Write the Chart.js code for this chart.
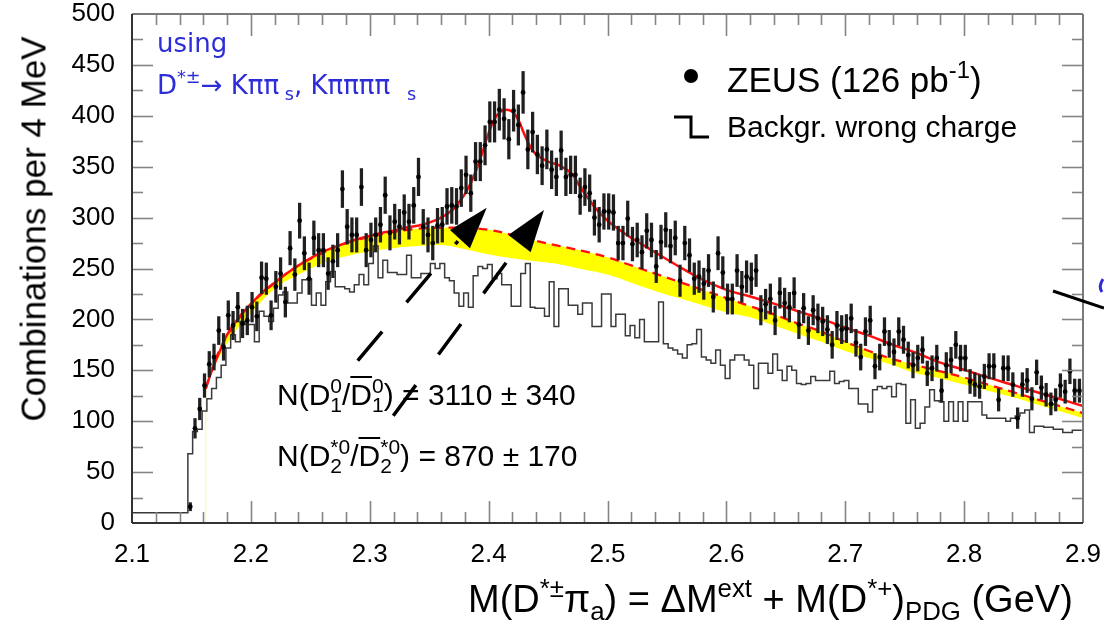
<!DOCTYPE html>
<html><head><meta charset="utf-8">
<script src="https://cdn.jsdelivr.net/npm/chart.js@4.4.0/dist/chart.umd.min.js"></script>
<style>
html,body{margin:0;padding:0;background:#fff;}
#wrap{position:relative;width:1104px;height:632px;overflow:hidden;font-family:"Liberation Sans",Arial,sans-serif;}
canvas{position:absolute;left:0;top:0;}
.t{position:absolute;white-space:nowrap;color:#000;line-height:1;}
.st{display:inline-flex;flex-direction:column;font-size:0.7em;line-height:0.92;vertical-align:0.55em;text-align:left;}
.sp{font-size:0.68em;vertical-align:0.6em;line-height:0;}
.sb{font-size:0.68em;vertical-align:-0.32em;line-height:0;}
.ov{text-decoration:overline;text-decoration-thickness:2px;}
.blue{color:#2c2cd8;font-family:"DejaVu Sans",Verdana,sans-serif;}
</style></head><body>
<div id="wrap">
<canvas id="c" width="1104" height="632"></canvas>
<div class="t" id="ytitle" style="left:33px;top:229px;font-size:35px;transform:translate(-50%,-50%) rotate(-90deg);">Combinations per 4 MeV</div>
<div class="t" style="left:468px;top:580px;font-size:38px;">M(D<span class="sp">*±</span>π<span class="sb">a</span>) = ΔM<span class="sp">ext</span> + M(D<span class="sp">*+</span>)<span class="sb">PDG</span> (GeV)</div>
<div class="t blue" style="left:157px;top:30px;font-size:26px;">using</div>
<div class="t blue" style="left:157px;top:72px;font-size:26px;">D<span class="sp">*±</span>→ Kππ<span class="sb">&nbsp;s</span>, Kππππ<span class="sb">&nbsp;&nbsp;&nbsp;s</span></div>
<div style="position:absolute;left:684px;top:69px;width:14px;height:14px;border-radius:50%;background:#000;"></div>
<div class="t" style="left:727px;top:62px;font-size:35px;">ZEUS (126 pb<span class="sp">-1</span>)</div>
<svg style="position:absolute;left:0;top:0;" width="1104" height="632">
<polyline points="674,117 691,117 691,137 709,137" fill="none" stroke="#000" stroke-width="3"/>
<line x1="1053" y1="291" x2="1104" y2="308" stroke="#000" stroke-width="3"/>
<path d="M1103,279 Q1098,286 1102,292" fill="none" stroke="#2c2cd8" stroke-width="3"/>
</svg>
<div class="t" style="left:727px;top:112px;font-size:30px;">Backgr. wrong charge</div>
<div class="t" style="left:277px;top:376px;font-size:30px;">N(D<span class="st"><span>0</span><span>1</span></span>/<span class="ov">D</span><span class="st"><span>0</span><span>1</span></span>) = 3110 ± 340</div>
<div class="t" style="left:277px;top:437px;font-size:30px;">N(D<span class="st"><span>*0</span><span>2</span></span>/<span class="ov">D</span><span class="st"><span>*0</span><span>2</span></span>) = 870 ± 170</div>
</div>
<script>
// ---- data ----
const binStart = 2.147;   // left edge of first 4 MeV bin (GeV)
const binWidth = 0.004;   // 4 MeV
const xTicks = [2.1,2.2,2.3,2.4,2.5,2.6,2.7,2.8,2.9];
const yTicks = [0,50,100,150,200,250,300,350,400,450,500];

// ZEUS data: combinations per bin
const zeusCounts = [
16,93,112,135,156,163,189,173,204,194,
212,196,199,212,203,241,240,204,232,245,
217,270,244,297,265,240,280,268,268,245,
257,268,328,291,283,283,330,268,278,283,
293,322,285,296,291,305,296,312,340,291,
283,275,292,293,311,312,311,329,342,324,
355,355,371,394,394,406,397,377,405,391,
423,367,384,362,351,367,347,340,366,340,
342,342,321,330,324,300,293,306,306,305,
275,275,299,274,278,266,287,278,252,276,
288,272,280,238,275,263,240,242,235,248,
222,265,246,220,220,248,232,242,240,248,
209,215,220,199,226,216,212,226,195,211,
189,209,201,198,190,175,194,190,191,201,
177,163,188,199,154,163,188,176,168,188,
180,165,155,162,170,147,152,162,130,155,
160,175,162,162,139,136,134,144,154,154,
121,152,152,136,103,136,140,122,148,133,
126,117,121,135,129,149,130,130];

// wrong-charge background histogram
const wrongCharge = [
10,68,90,92,110,122,132,143,155,172,
185,178,198,195,195,178,208,203,198,211,
224,227,216,216,226,239,240,214,226,214,
237,247,232,232,230,227,234,244,234,255,
272,241,258,246,246,244,244,263,241,241,
245,245,255,250,255,241,238,226,213,226,
212,243,252,250,254,240,245,234,234,213,
213,245,255,212,211,211,203,237,193,230,
230,214,214,205,216,216,193,193,225,225,
193,205,205,184,194,182,200,178,178,178,
217,176,172,170,166,162,175,176,190,163,
160,157,170,155,142,160,165,165,160,155,
132,157,157,147,166,150,140,154,150,137,
136,137,144,140,140,140,149,137,139,140,
132,132,117,117,109,131,134,132,134,124,
137,136,98,121,93,98,114,131,120,119,
100,119,100,119,100,119,119,119,106,103,
103,103,103,100,103,105,108,111,89,95,
95,94,94,92,92,89,89,91];

// total fit (red solid)
const fitX = [2.162,2.166,2.17,2.175,2.18,2.19,2.20,2.21,2.22,2.23,2.24,2.25,2.26,2.27,2.28,2.29,2.30,2.31,2.32,2.33,2.34,2.35,2.36,2.37,2.375,2.38,2.385,2.39,2.395,2.40,2.405,2.41,2.415,2.42,2.425,2.43,2.435,2.44,2.45,2.46,2.47,2.475,2.48,2.485,2.49,2.50,2.51,2.52,2.53,2.54,2.56,2.58,2.60,2.62,2.64,2.66,2.68,2.70,2.72,2.74,2.76,2.78,2.80,2.82,2.84,2.86,2.88,2.90];
const fitY = [132,146,158,172,185,202,215,227,236,245,253,260,266,271,275,279,282,285,287,290,292,295,300,308,315,323,334,348,365,383,397,404,406,404,396,382,370,362,355,351,343,334,325,317,309,297,288,280,273,266,252,239,229,222.5,215.5,208,200.5,192,184,175,167,157.5,150.5,143,136,129,122,115];

// background-only fit band (yellow), top edge = red dashed
const bandX = [2.162,2.17,2.18,2.19,2.20,2.22,2.24,2.26,2.28,2.30,2.32,2.34,2.36,2.38,2.40,2.42,2.44,2.46,2.48,2.50,2.52,2.54,2.56,2.58,2.60,2.62,2.64,2.66,2.68,2.70,2.72,2.74,2.76,2.78,2.80,2.82,2.84,2.86,2.88,2.90];
const bandTop = [132,160,184,201,215,236,253,265,275,281,286,289,290,290,288,283,277,272,267,261,253,245,237,229,221,213,205,196,188,178,169,161,155,149,143,136,129,122,115,108];
const bandBottom = [132,155,176,193,206,230,244,255,262,267,270,272,273,269,264,260,257,254,249,244,236,228,221,214,207,202,194,186,178,169,162,155,147,142,136,130,124,117,110,103];

// annotation arrows (data coordinates)
const arrowHead1 = [[2.3675,287.8],[2.3984,309.7],[2.3843,269.8]];
const arrowHead2 = [[2.4166,282.9],[2.4466,307.5],[2.4354,265.9]];
const arrowLine1 = [[2.2899,159.4],[2.3742,277]];
const arrowLine2 = [[2.3198,105.4],[2.4155,256.9]];

// ---- build datasets ----
const centers = zeusCounts.map((_, k) => binStart + binWidth * (k + 0.5));
const pts = zeusCounts.map((v, k) => ({x: centers[k], y: v}));
const errs = zeusCounts.map((v, k) => ({x: centers[k], y: [v - Math.sqrt(v), v + Math.sqrt(v)]}));
const histPts = [{x: 2.1, y: 0}];
wrongCharge.forEach((v, k) => histPts.push({x: binStart + binWidth * k, y: v}));
histPts.push({x: binStart + binWidth * wrongCharge.length, y: wrongCharge[wrongCharge.length - 1]});
const fitPts = fitX.map((x, i) => ({x, y: fitY[i]}));
const topPts = bandX.map((x, i) => ({x, y: bandTop[i]}));
const botPts = bandX.map((x, i) => ({x, y: bandBottom[i]}));

const frame = {
  id: 'frame',
  afterDatasetsDraw(chart) {
    const {ctx, chartArea: a, scales: {x, y}} = chart;
    ctx.save();
    const seg = (x1, y1, x2, y2) => { ctx.beginPath(); ctx.moveTo(x1, y1); ctx.lineTo(x2, y2); ctx.stroke(); };
    // arrows
    ctx.fillStyle = '#000';
    [arrowHead1, arrowHead2].forEach(tri => {
      ctx.beginPath();
      tri.forEach((p, i) => { const px = x.getPixelForValue(p[0]), py = y.getPixelForValue(p[1]); i ? ctx.lineTo(px, py) : ctx.moveTo(px, py); });
      ctx.closePath(); ctx.fill();
    });
    ctx.strokeStyle = '#000'; ctx.lineWidth = 3.5; ctx.setLineDash([38, 38]);
    [arrowLine1, arrowLine2].forEach(l => seg(x.getPixelForValue(l[0][0]), y.getPixelForValue(l[0][1]), x.getPixelForValue(l[1][0]), y.getPixelForValue(l[1][1])));
    ctx.setLineDash([]);
    // inward ticks
    ctx.strokeStyle = '#858585'; ctx.lineWidth = 1.6;
    for (let v = 25; v < 500; v += 25) {
      const py = Math.round(y.getPixelForValue(v)) + 0.5, L = v % 50 === 0 ? 21 : 11;
      seg(a.left, py, a.left + L, py); seg(a.right, py, a.right - L, py);
    }
    for (let i = 1; i < 40; i++) {
      const px = Math.round(x.getPixelForValue(2.1 + i * 0.02)) + 0.5, L = i % 5 === 0 ? 22 : 11;
      seg(px, a.bottom, px, a.bottom - L); seg(px, a.top, px, a.top + L);
    }
    // frame
    ctx.lineWidth = 2;
    ctx.strokeStyle = '#7a7a7a';
    seg(a.left, a.top, a.right, a.top); seg(a.right, a.top, a.right, a.bottom);
    ctx.strokeStyle = '#333';
    seg(a.left, a.top, a.left, a.bottom); seg(a.left, a.bottom, a.right, a.bottom);
    ctx.restore();
  }
};

new Chart(document.getElementById('c'), {
  type: 'scatter',
  data: {
    datasets: [
      {type: 'line', data: botPts, borderWidth: 0, pointRadius: 0, fill: false, tension: 0.4, order: 9},
      {type: 'line', data: topPts, borderWidth: 0, pointRadius: 0, fill: {target: 0}, backgroundColor: '#ffff00', tension: 0.4, order: 8},
      {type: 'line', data: [{x: bandX[0], y: 0}, {x: bandX[0], y: bandTop[0]}], borderColor: '#ffff80', borderWidth: 1, pointRadius: 0, order: 7},
      {type: 'line', data: histPts, stepped: 'after', borderColor: '#3a3a3a', borderWidth: 1.5, pointRadius: 0, fill: false, order: 6},
      {type: 'line', data: topPts, borderColor: '#ff1010', borderDash: [9, 6], borderWidth: 2.3, pointRadius: 0, fill: false, tension: 0.4, order: 5},
      {type: 'line', data: fitPts, borderColor: '#ff1010', borderWidth: 2.5, pointRadius: 0, fill: false, tension: 0.4, order: 4},
      {type: 'bar', data: errs, backgroundColor: '#202020', barThickness: 2.6, grouped: false, order: 3},
      {type: 'scatter', data: pts, backgroundColor: '#000', borderColor: '#000', pointRadius: 2.4, borderWidth: 0, order: 1}
    ]
  },
  options: {
    responsive: false, animation: false,
    layout: {padding: {left: 0, right: 21, top: 14, bottom: 0}},
    plugins: {legend: {display: false}, tooltip: {enabled: false}},
    scales: {
      x: {type: 'linear', min: 2.1, max: 2.9, offset: false,
          grid: {display: false, offset: false}, border: {display: false},
          afterFit: s => { s.height = 109; s.paddingLeft = 0; s.paddingRight = 0; },
          afterBuildTicks: s => { s.ticks = xTicks.map(v => ({value: v})); },
          ticks: {padding: 11, color: '#000', font: {family: 'Liberation Sans', size: 26, lineHeight: 1}, callback: v => v.toFixed(1), maxRotation: 0, autoSkip: false}},
      y: {type: 'linear', min: 0, max: 500,
          grid: {display: false}, border: {display: false},
          afterFit: s => { s.width = 132; s.paddingTop = 0; s.paddingBottom = 0; },
          afterBuildTicks: s => { s.ticks = yTicks.map(v => ({value: v})); },
          ticks: {padding: 9, color: '#000', font: {family: 'Liberation Sans', size: 26, lineHeight: 1}}}
    }
  },
  plugins: [frame]
});
</script>
</body></html>
